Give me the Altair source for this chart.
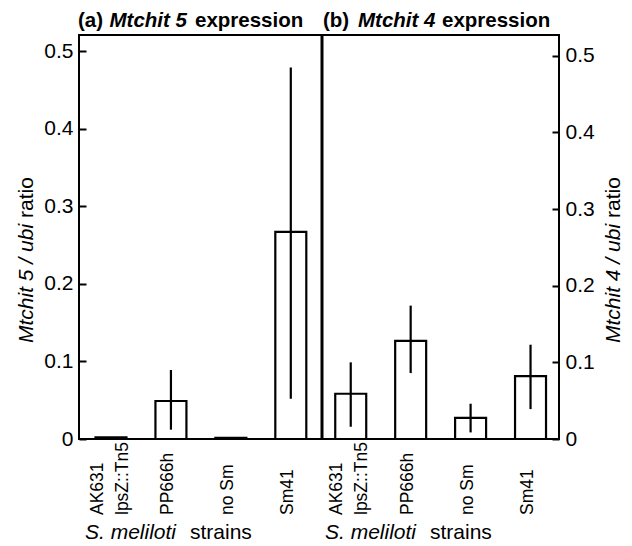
import altair as alt
import pandas as pd

# ---- data ----
keys = ["L1", "L2", "L3", "L4", "R1", "R2", "R3", "R4"]
strains = ["AK631\nlpsZ::Tn5", "PP666h", "no Sm", "Sm41"]

mtchit5 = [0.002, 0.049, 0.0015, 0.267]
mtchit5_lo = [None, 0.012, None, 0.052]
mtchit5_hi = [None, 0.089, None, 0.479]

mtchit4 = [0.059, 0.128, 0.0275, 0.082]
mtchit4_lo = [0.016, 0.086, 0.0086, 0.039]
mtchit4_hi = [0.100, 0.174, 0.046, 0.123]

y_ticks = [0, 0.1, 0.2, 0.3, 0.4, 0.5]

FONT = "Liberation Sans"
W, H = 480, 404

left_df = pd.DataFrame({"key": keys[:4], "v": mtchit5, "lo": mtchit5_lo, "hi": mtchit5_hi})
right_df = pd.DataFrame({"key": keys[4:], "v": mtchit4, "lo": mtchit4_lo, "hi": mtchit4_hi})
left_err = left_df.dropna()
right_err = right_df.dropna()
labels_df = pd.DataFrame({"key": keys, "label": strains * 2})
labels_multi = labels_df[labels_df["label"].str.contains("\n")]
labels_single = labels_df[~labels_df["label"].str.contains("\n")]

xscale = alt.Scale(domain=keys, paddingInner=0.483, paddingOuter=0.246, align=0.56)
X = alt.X("key:N", scale=xscale, axis=None)


def yaxis(orient):
    return alt.Axis(
        orient=orient, values=y_ticks, format=".1~f", title="", grid=False,
        domain=False, offset=-7, tickSize=7, tickWidth=2, tickColor="black",
        labelPadding=6, labelFont=FONT, labelFontSize=21, labelColor="black",
    )


def panel(df, err, dmax, orient):
    y = alt.Y("v:Q", scale=alt.Scale(domain=[0, dmax], nice=False, zero=True), axis=yaxis(orient))
    bars = alt.Chart(df).mark_bar(fill="white", stroke="black", strokeWidth=2.2).encode(x=X, y=y)
    rules = alt.Chart(err).mark_rule(color="black", strokeWidth=2.2).encode(
        x=X, y=alt.Y("lo:Q"), y2="hi:Q"
    )
    return alt.layer(bars, rules)


left = panel(left_df, left_err, 0.521, "left")
right = panel(right_df, right_err, 0.527, "right")

divider = alt.Chart(pd.DataFrame({"d": [0]})).mark_rule(color="black", strokeWidth=3).encode(
    x=alt.value(243), y=alt.value(0), y2=alt.value(H)
)


def xlab(df, dy):
    return alt.Chart(df).mark_text(
        angle=270, align="left", baseline="middle", font=FONT, fontSize=17.5,
        lineHeight=25, lineBreak="\n", color="black", dy=dy
    ).encode(x=X, y=alt.value(480), text="label:N")


xlabels_multi = xlab(labels_multi, -13.5)
xlabels_single = xlab(labels_single, -3)


def txt(s, x, y, size=21, weight="normal", style="normal", angle=0, baseline="alphabetic"):
    return alt.Chart(pd.DataFrame({"t": [s]})).mark_text(
        align="left", baseline=baseline, font=FONT, fontSize=size,
        fontWeight=weight, fontStyle=style, angle=angle, color="black"
    ).encode(x=alt.value(x), y=alt.value(y), text="t:N")


texts = [
    # panel titles
    txt("(a)", -1, -8, size=20.5, weight="bold"),
    txt("Mtchit 5", 30.5, -8, size=20.5, weight="bold", style="italic"),
    txt("expression", 116, -8, size=20.5, weight="bold"),
    txt("(b)", 244, -8, size=20.5, weight="bold"),
    txt("Mtchit 4", 279, -8, size=20.5, weight="bold", style="italic"),
    txt("expression", 363, -8, size=20.5, weight="bold"),
    # x titles
    txt("S. meliloti", 6, 504, style="italic"),
    txt("strains", 111, 504),
    txt("S. meliloti", 246, 504, style="italic"),
    txt("strains", 351, 504),
    # y titles
    txt("Mtchit 5 / ubi", -52, 308, style="italic", angle=270, baseline="middle"),
    txt("ratio", -52, 183, angle=270, baseline="middle"),
    txt("Mtchit 4 / ubi", 535, 308, style="italic", angle=270, baseline="middle"),
    txt("ratio", 535, 183, angle=270, baseline="middle"),
]

chart = alt.layer(left, right, divider, xlabels_multi, xlabels_single, *texts).resolve_scale(
    y="independent"
).resolve_axis(y="independent").properties(
    width=W, height=H,
    autosize=alt.AutoSizeParams(type="none"),
    padding={"left": 71, "top": 27, "right": 65, "bottom": 107},
    background="white",
).configure_view(stroke="black", strokeWidth=2)

chart.save("out.html", embed_options={"renderer": "svg", "actions": False})
